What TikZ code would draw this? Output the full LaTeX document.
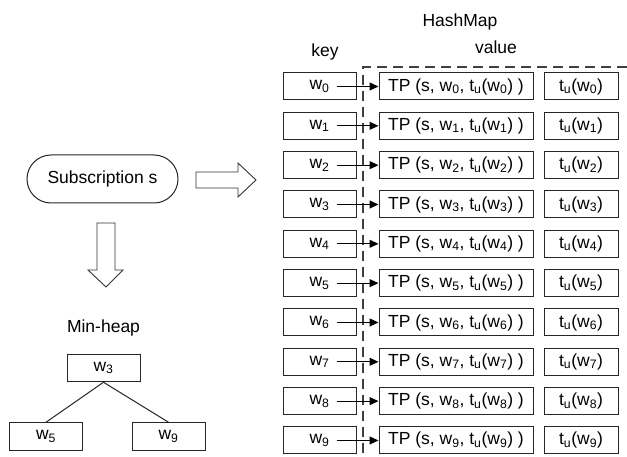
\documentclass[tikz,border=0pt]{standalone}
\usepackage{fontspec}
\setmainfont{Liberation Sans}
\usetikzlibrary{arrows.meta}
\newcommand{\sbs}[1]{\textsubscript{#1}}
\begin{document}
\begin{tikzpicture}[x=1pt,y=-1pt,
  every node/.style={font=\fontsize{17.5}{20}\selectfont, text=black},
  box/.style={draw=black!85, line width=1pt, minimum height=27pt, inner sep=0pt},
  kbox/.style={box, minimum width=73pt},
  tpbox/.style={box, minimum width=154pt},
  tubox/.style={box, minimum width=74pt},
  hbox/.style={box, minimum width=73pt, minimum height=27.5pt},
  link/.style={line width=1pt, -{Triangle[length=9pt,width=8pt]}},
  dashline/.style={line width=1.1pt, black!75, dash pattern=on 10pt off 6pt},
  blockarrow/.style={draw=black!80, line width=0.9pt, fill=white, line join=miter}
]
\useasboundingbox (0,0) rectangle (627,457);

% titles
\node[anchor=base] (hm) at (460,27) {HashMap};
\node[anchor=base] (key) at (325,57) {key};
\node[anchor=base] (val) at (496,54) {value};

% dashed separators
\coordinate (dc) at (363,67);
\coordinate (dr) at (627,67);
\coordinate (db) at (363,457);
\draw[dashline] (dr) -- (dc) -- (db);

% rows
\foreach \i in {0,...,9}{
  \pgfmathsetmacro{\yy}{86.5+39.33*\i}
  \node[kbox] (k\i) at (319.5,\yy) {w\sbs{\i}};
  \node[tpbox] (tp\i) at (456,\yy) {TP (s, w\sbs{\i}, t\sbs{u}(w\sbs{\i}) )};
  \node[tubox] (tu\i) at (581,\yy) {t\sbs{u}(w\sbs{\i})};
  \draw[link] ([xshift=17pt]k\i.center) -- (tp\i.west);
}

% subscription
\node[draw=black!85, line width=1pt, rounded corners=24pt, minimum width=151pt, minimum height=48pt, inner sep=0pt] (sub) at (102.5,179) {Subscription s};

% block arrow right
\draw[blockarrow] (196,172) -- (238,172) -- (238,163) -- (256,180) -- (238,197) -- (238,188) -- (196,188) -- cycle;
% block arrow down
\draw[blockarrow] (97,223) -- (115,223) -- (115,270) -- (123,270) -- (106,287) -- (88,270) -- (97,270) -- cycle;

% min-heap
\node[anchor=base] (mh) at (103.5,333) {Min-heap};
\node[hbox] (h3) at (103.5,368) {w\sbs{3}};
\node[hbox] (h5) at (46,436.5) {w\sbs{5}};
\node[hbox] (h9) at (168.5,436.5) {w\sbs{9}};
\draw[line width=1pt, black!85] (h3.south) -- (h5.north);
\draw[line width=1pt, black!85] (h3.south) -- (h9.north);
\end{tikzpicture}
\end{document}
